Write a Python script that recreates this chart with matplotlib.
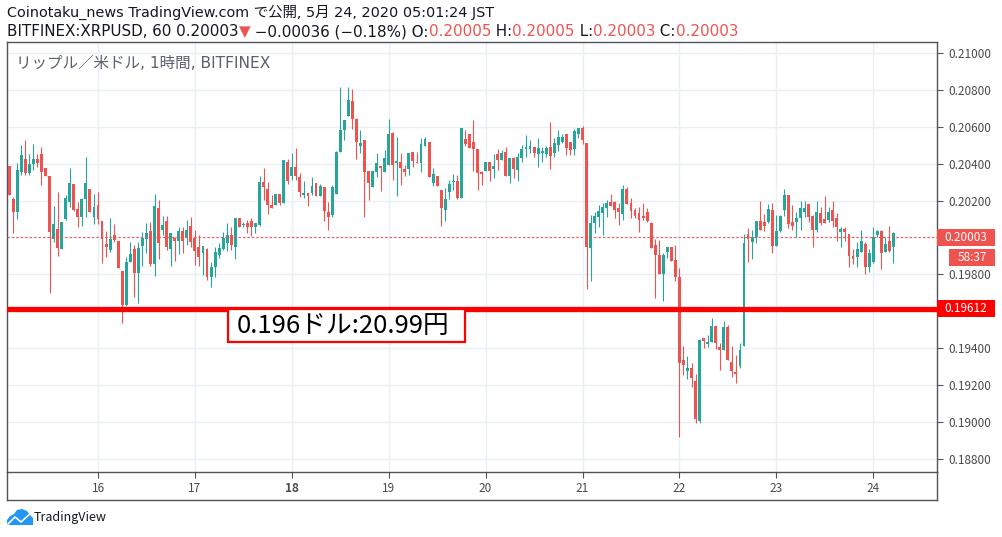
import matplotlib
matplotlib.use("Agg")

import matplotlib.pyplot as plt
from matplotlib.patches import Rectangle, Polygon
from matplotlib.lines import Line2D
import numpy as np
import pandas as pd

plt.rcParams['font.family'] = ['Noto Sans CJK JP', 'DejaVu Sans']
LATIN_FIRST = ['DejaVu Sans', 'Noto Sans CJK JP']

# XRP/USD 1h candles, Bitfinex, from 2020-05-15 02:00 JST
first_bar = "2020-05-15 02:00"

opens = [
    0.20387, 0.20208, 0.20138, 0.20355, 0.20425, 0.20349, 0.20398, 0.20425, 0.20452, 0.20376,
    0.20333, 0.19992, 0.20046, 0.19937, 0.20100, 0.20192, 0.20290, 0.20154, 0.20111, 0.20208,
    0.20263, 0.20111, 0.20176, 0.20089, 0.19965, 0.19932, 0.20013, 0.19981, 0.19818, 0.19634,
    0.19867, 0.19937, 0.19807, 0.19954, 0.19992, 0.20035, 0.19856, 0.20160, 0.20040, 0.20089,
    0.19937, 0.19997, 0.19981, 0.20035, 0.20002, 0.20062, 0.19997, 0.19948, 0.19916, 0.19937,
    0.19786, 0.19840, 0.19905, 0.19937, 0.19970, 0.20013, 0.19948, 0.20105, 0.20067, 0.20078,
    0.20089, 0.20057, 0.20067, 0.20301, 0.20263, 0.20176, 0.20176, 0.20236, 0.20187, 0.20409,
    0.20333, 0.20382, 0.20328, 0.20230, 0.20241, 0.20241, 0.20295, 0.20225, 0.20273, 0.20138,
    0.20122, 0.20236, 0.20463, 0.20582, 0.20658, 0.20740, 0.20642, 0.20496, 0.20528, 0.20360,
    0.20273, 0.20355, 0.20387, 0.20355, 0.20393, 0.20566, 0.20404, 0.20409, 0.20371, 0.20371,
    0.20463, 0.20409, 0.20404, 0.20496, 0.20517, 0.20295, 0.20333, 0.20257, 0.20149, 0.20246,
    0.20301, 0.20306, 0.20214, 0.20534, 0.20561, 0.20517, 0.20479, 0.20355, 0.20360, 0.20409,
    0.20371, 0.20452, 0.20420, 0.20463, 0.20333, 0.20431, 0.20366, 0.20431, 0.20479, 0.20479,
    0.20490, 0.20452, 0.20458, 0.20452, 0.20490, 0.20458, 0.20501, 0.20517, 0.20561, 0.20517,
    0.20479, 0.20561, 0.20593, 0.20512, 0.19943, 0.20078, 0.20111, 0.20133, 0.20160, 0.20192,
    0.20192, 0.20160, 0.20127, 0.20263, 0.20187, 0.20149, 0.20133, 0.20116, 0.20138, 0.20078,
    0.19959, 0.19905, 0.19802, 0.19921, 0.19948, 0.19878, 0.19786, 0.19336, 0.19276, 0.19292,
    0.19222, 0.19005, 0.19455, 0.19423, 0.19433, 0.19520, 0.19406, 0.19390, 0.19515, 0.19325,
    0.19271, 0.19303, 0.19412, 0.20019, 0.19975, 0.20002, 0.20089, 0.20084, 0.20084, 0.20149,
    0.19954, 0.20035, 0.20149, 0.20230, 0.20084, 0.20084, 0.20105, 0.20138, 0.20181, 0.20116,
    0.20040, 0.20133, 0.20100, 0.20095, 0.20149, 0.20105, 0.20030, 0.20046, 0.20019, 0.19899,
    0.19894, 0.19921, 0.19965, 0.19840, 0.19867, 0.20013, 0.20035, 0.19921, 0.19981, 0.19948,
]
highs = [
    0.20387, 0.20219, 0.20404, 0.20501, 0.20528, 0.20452, 0.20507, 0.20452, 0.20490, 0.20376,
    0.20333, 0.20170, 0.20246, 0.20084, 0.20230, 0.20376, 0.20290, 0.20192, 0.20214, 0.20436,
    0.20263, 0.20236, 0.20246, 0.20089, 0.20035, 0.20105, 0.20073, 0.19981, 0.19818, 0.19894,
    0.19975, 0.19959, 0.19975, 0.20030, 0.20078, 0.20084, 0.20236, 0.20203, 0.20116, 0.20116,
    0.20024, 0.20002, 0.20057, 0.20057, 0.20095, 0.20111, 0.20040, 0.20013, 0.19954, 0.19943,
    0.19867, 0.19948, 0.19970, 0.20030, 0.20078, 0.20057, 0.20105, 0.20105, 0.20084, 0.20095,
    0.20105, 0.20078, 0.20333, 0.20376, 0.20301, 0.20230, 0.20236, 0.20236, 0.20420, 0.20425,
    0.20458, 0.20485, 0.20349, 0.20306, 0.20241, 0.20328, 0.20295, 0.20290, 0.20273, 0.20192,
    0.20284, 0.20469, 0.20815, 0.20637, 0.20815, 0.20805, 0.20647, 0.20582, 0.20528, 0.20360,
    0.20360, 0.20458, 0.20387, 0.20474, 0.20642, 0.20572, 0.20544, 0.20458, 0.20393, 0.20458,
    0.20463, 0.20463, 0.20539, 0.20544, 0.20517, 0.20376, 0.20333, 0.20257, 0.20268, 0.20311,
    0.20344, 0.20338, 0.20593, 0.20582, 0.20561, 0.20637, 0.20479, 0.20360, 0.20409, 0.20409,
    0.20452, 0.20479, 0.20474, 0.20490, 0.20431, 0.20436, 0.20458, 0.20501, 0.20555, 0.20528,
    0.20490, 0.20539, 0.20490, 0.20496, 0.20626, 0.20539, 0.20582, 0.20561, 0.20561, 0.20517,
    0.20588, 0.20593, 0.20604, 0.20512, 0.20122, 0.20138, 0.20176, 0.20187, 0.20203, 0.20236,
    0.20198, 0.20187, 0.20284, 0.20273, 0.20214, 0.20160, 0.20165, 0.20187, 0.20160, 0.20084,
    0.19992, 0.19986, 0.19916, 0.19948, 0.19948, 0.19959, 0.19834, 0.19412, 0.19357, 0.19320,
    0.19260, 0.19450, 0.19455, 0.19471, 0.19563, 0.19520, 0.19428, 0.19547, 0.19525, 0.19412,
    0.19363, 0.19428, 0.20019, 0.20051, 0.20040, 0.20089, 0.20198, 0.20127, 0.20181, 0.20187,
    0.20122, 0.20122, 0.20263, 0.20230, 0.20176, 0.20138, 0.20198, 0.20198, 0.20181, 0.20122,
    0.20198, 0.20165, 0.20225, 0.20165, 0.20198, 0.20133, 0.20057, 0.20057, 0.20019, 0.19937,
    0.19975, 0.20040, 0.19975, 0.19937, 0.20057, 0.20040, 0.20040, 0.20002, 0.20062, 0.20030,
]
lows = [
    0.20230, 0.20024, 0.20100, 0.20338, 0.20338, 0.20338, 0.20366, 0.20382, 0.20284, 0.20333,
    0.19699, 0.19975, 0.19899, 0.19937, 0.20095, 0.20165, 0.20143, 0.20057, 0.20062, 0.20111,
    0.20138, 0.20073, 0.20073, 0.19862, 0.19894, 0.19921, 0.19975, 0.19834, 0.19536, 0.19628,
    0.19867, 0.19677, 0.19645, 0.19845, 0.19916, 0.19845, 0.19791, 0.19883, 0.20013, 0.19932,
    0.19845, 0.19872, 0.19910, 0.19916, 0.19959, 0.19948, 0.19851, 0.19845, 0.19796, 0.19769,
    0.19731, 0.19786, 0.19889, 0.19932, 0.19927, 0.19932, 0.19883, 0.20057, 0.20057, 0.20024,
    0.20008, 0.20024, 0.20062, 0.20203, 0.20127, 0.20160, 0.20176, 0.20176, 0.20187, 0.20290,
    0.20311, 0.20311, 0.20219, 0.20214, 0.20170, 0.20230, 0.20225, 0.20225, 0.20089, 0.20040,
    0.20111, 0.20236, 0.20463, 0.20528, 0.20658, 0.20588, 0.20425, 0.20458, 0.20111, 0.20203,
    0.20273, 0.20328, 0.20252, 0.20355, 0.20393, 0.20311, 0.20225, 0.20284, 0.20333, 0.20338,
    0.20382, 0.20404, 0.20355, 0.20496, 0.20328, 0.20279, 0.20279, 0.20062, 0.20089, 0.20208,
    0.20257, 0.20208, 0.20214, 0.20496, 0.20485, 0.20360, 0.20257, 0.20284, 0.20360, 0.20306,
    0.20322, 0.20366, 0.20420, 0.20333, 0.20295, 0.20322, 0.20306, 0.20409, 0.20436, 0.20458,
    0.20436, 0.20382, 0.20409, 0.20436, 0.20371, 0.20436, 0.20469, 0.20512, 0.20447, 0.20447,
    0.20447, 0.20539, 0.20507, 0.19721, 0.19764, 0.20024, 0.20057, 0.20013, 0.20111, 0.20170,
    0.20105, 0.20067, 0.20095, 0.20181, 0.20105, 0.20105, 0.20030, 0.20095, 0.20084, 0.19943,
    0.19672, 0.19802, 0.19656, 0.19889, 0.19872, 0.19764, 0.18918, 0.19254, 0.19233, 0.19189,
    0.18994, 0.18994, 0.19401, 0.19406, 0.19433, 0.19395, 0.19282, 0.19390, 0.19336, 0.19244,
    0.19211, 0.19292, 0.19412, 0.19867, 0.19883, 0.19970, 0.20040, 0.20035, 0.20078, 0.19916,
    0.19954, 0.20030, 0.20116, 0.20051, 0.20040, 0.20002, 0.20040, 0.20111, 0.20084, 0.19948,
    0.20030, 0.20067, 0.20078, 0.20084, 0.20057, 0.19981, 0.19948, 0.19981, 0.19840, 0.19856,
    0.19840, 0.19921, 0.19802, 0.19813, 0.19862, 0.20002, 0.19829, 0.19921, 0.19921, 0.19862,
]
closes = [
    0.20230, 0.20138, 0.20366, 0.20447, 0.20349, 0.20398, 0.20425, 0.20404, 0.20355, 0.20333,
    0.20030, 0.20073, 0.19943, 0.20084, 0.20214, 0.20295, 0.20149, 0.20111, 0.20208, 0.20295,
    0.20138, 0.20165, 0.20100, 0.19992, 0.19948, 0.19992, 0.19986, 0.19834, 0.19634, 0.19867,
    0.19910, 0.19807, 0.19943, 0.19997, 0.20024, 0.19856, 0.20170, 0.19970, 0.20067, 0.19948,
    0.20024, 0.19981, 0.20035, 0.19981, 0.20040, 0.19975, 0.19927, 0.19894, 0.19954, 0.19786,
    0.19840, 0.19921, 0.19943, 0.19997, 0.20013, 0.19959, 0.20105, 0.20057, 0.20073, 0.20057,
    0.20057, 0.20078, 0.20301, 0.20273, 0.20176, 0.20160, 0.20236, 0.20187, 0.20420, 0.20306,
    0.20382, 0.20333, 0.20246, 0.20241, 0.20225, 0.20279, 0.20225, 0.20279, 0.20143, 0.20111,
    0.20273, 0.20463, 0.20582, 0.20637, 0.20745, 0.20642, 0.20517, 0.20512, 0.20355, 0.20295,
    0.20360, 0.20404, 0.20376, 0.20431, 0.20561, 0.20393, 0.20414, 0.20376, 0.20355, 0.20458,
    0.20414, 0.20404, 0.20507, 0.20534, 0.20328, 0.20344, 0.20279, 0.20160, 0.20208, 0.20290,
    0.20306, 0.20214, 0.20593, 0.20507, 0.20485, 0.20479, 0.20349, 0.20344, 0.20409, 0.20360,
    0.20387, 0.20420, 0.20458, 0.20333, 0.20431, 0.20371, 0.20436, 0.20479, 0.20490, 0.20496,
    0.20458, 0.20485, 0.20469, 0.20485, 0.20441, 0.20512, 0.20544, 0.20544, 0.20485, 0.20474,
    0.20577, 0.20593, 0.20528, 0.19948, 0.20078, 0.20116, 0.20143, 0.20165, 0.20187, 0.20170,
    0.20149, 0.20138, 0.20263, 0.20181, 0.20143, 0.20116, 0.20095, 0.20105, 0.20089, 0.19943,
    0.19905, 0.19802, 0.19905, 0.19948, 0.19872, 0.19786, 0.19320, 0.19309, 0.19292, 0.19238,
    0.19016, 0.19444, 0.19439, 0.19433, 0.19520, 0.19428, 0.19390, 0.19515, 0.19336, 0.19276,
    0.19260, 0.19390, 0.19970, 0.19992, 0.20002, 0.20089, 0.20040, 0.20062, 0.20154, 0.19954,
    0.20035, 0.20116, 0.20230, 0.20073, 0.20062, 0.20105, 0.20160, 0.20160, 0.20111, 0.20040,
    0.20138, 0.20078, 0.20078, 0.20138, 0.20089, 0.20057, 0.20046, 0.20030, 0.19899, 0.19883,
    0.19937, 0.19981, 0.19840, 0.19916, 0.20002, 0.20035, 0.19916, 0.19965, 0.19927, 0.20024,
]

last_price = 0.20003
support_price = 0.19612
price_ticks = [0.188, 0.190, 0.192, 0.194, 0.196, 0.198, 0.200, 0.202, 0.204, 0.206, 0.208, 0.210]
day_starts = pd.date_range("2020-05-16", "2020-05-24", freq="D")

header_1 = "Coinotaku_news TradingView.com で公開, 5月 24, 2020 05:01:24 JST"
chart_title = "リップル／米ドル, 1時間, BITFINEX"
note_text = "0.196ドル:20.99円"

UP = "#26a69a"
DOWN = "#ef5350"
GRID = "#e9eff4"
FRAME = "#50535e"
TXT = "#131722"

W, H = 1002, 537
fig = plt.figure(figsize=(W / 100, H / 100), dpi=100)
fig.patch.set_facecolor("white")

# main price pane: x 7..937, y 42..472 (pixels)
ax = fig.add_axes([7 / W, (H - 472) / H, 930 / W, 430 / H])

t0 = pd.Timestamp("2020-05-16")
times = pd.date_range(first_bar, periods=len(closes), freq="h")
x = np.asarray((times - t0) / pd.Timedelta(hours=1))
o = np.array(opens)
h = np.array(highs)
l = np.array(lows)
c = np.array(closes)
cols = np.where(c >= o, UP, DOWN)

ax.vlines(x, l, h, colors=cols, linewidth=0.8, zorder=3)
body = np.maximum(np.abs(c - o), 0.00004)
ax.bar(x, body, bottom=np.minimum(o, c), width=0.72, color=cols, linewidth=0, zorder=4)

ax.set_xlim(-22.54, 207.8)
ax.set_ylim(0.18729, 0.21059)

ax.axhline(last_price, color=DOWN, linewidth=0.8, linestyle=(0, (2, 2)), zorder=5)
ax.axhline(support_price, color="#ff0000", linewidth=3.8, zorder=6)

# the 0.20000 and 0.19600 labels sit under the coloured price tags
covered = {0.196, 0.200}
ax.set_yticks(price_ticks)
ax.set_yticklabels(["" if p in covered else f"{p:.5f}" for p in price_ticks])
ax.yaxis.tick_right()
day_x = np.asarray((day_starts - t0) / pd.Timedelta(hours=1))
ax.set_xticks(day_x)
ax.set_xticklabels([str(d.day) for d in day_starts])
for lab, d in zip(ax.get_xticklabels(), day_starts):
    if d.day == 18:
        lab.set_fontweight("bold")
ax.tick_params(axis="both", labelsize=8.5, colors=FRAME, labelcolor="#4a4a4a", length=4, width=0.8)
ax.tick_params(axis="y", pad=4)
ax.grid(True, color=GRID, linewidth=1, zorder=0)
for s in ax.spines.values():
    s.set_color(FRAME)
    s.set_linewidth(1)

ax.text(0.0097, 0.95, chart_title, transform=ax.transAxes, fontsize=11.2,
        color="#5d606b", va="center", ha="left", family=LATIN_FIRST)

# time axis frame below the pane
fig.add_artist(Line2D([7 / W, 7 / W], [(H - 472) / H, (H - 500) / H], color=FRAME, lw=1))
fig.add_artist(Line2D([937 / W, 937 / W], [(H - 472) / H, (H - 500) / H], color=FRAME, lw=1))
fig.add_artist(Line2D([7 / W, 937 / W], [(H - 500) / H, (H - 500) / H], color=FRAME, lw=1))


def px_box(x0, y0, x1, y1, face, edge=None, lw=0):
    fig.add_artist(Rectangle((x0 / W, (H - y1) / H), (x1 - x0) / W, (y1 - y0) / H,
                             transform=fig.transFigure, facecolor=face,
                             edgecolor=edge if edge else face, linewidth=lw))


# price tags on the right axis
px_box(937, 229, 995, 246, DOWN)
fig.text(966 / W, 1 - 237.5 / H, f"{last_price:.5f}", color="white", fontsize=8.5,
         ha="center", va="center")
px_box(949, 249, 995, 266, DOWN)
fig.text(972 / W, 1 - 257.5 / H, "58:37", color="white", fontsize=8.5, ha="center", va="center")
px_box(937, 300, 995, 317, "#ff0000")
fig.text(966 / W, 1 - 308.5 / H, f"{support_price:.5f}", color="white", fontsize=8.5,
         ha="center", va="center")

# note box
px_box(228, 309, 465, 342, "white", "#ff0000", 1.6)
fig.text(343 / W, 1 - 326 / H, note_text, color="black", fontsize=18.5, ha="center", va="center")

# header
renderer = fig.canvas.get_renderer()


def draw_runs(x_px, y_px, runs, size):
    xf = x_px / W
    for txt, col in runs:
        t = fig.text(xf, 1 - y_px / H, txt, color=col, fontsize=size, ha="left", va="center",
                     family=LATIN_FIRST)
        xf += t.get_window_extent(renderer=renderer).width / W


draw_runs(7, 12, [(header_1, TXT)], 10.4)
draw_runs(7, 32, [
    ("BITFINEX:XRPUSD, 60 0.20003", TXT), ("▼", DOWN), (" −0.00036 (−0.18%) O:", TXT),
    ("0.20005", DOWN), (" H:", TXT), ("0.20005", DOWN), (" L:", TXT), ("0.20003", DOWN),
    (" C:", TXT), ("0.20003", DOWN),
], 10.9)

# TradingView logo
cloud = [(7, 525), (7, 520), (10, 516), (14, 514), (17, 510), (22, 509), (27, 511),
         (30, 515), (33, 518), (33, 525)]
fig.add_artist(Polygon([(px / W, 1 - py / H) for px, py in cloud], closed=True,
                       transform=fig.transFigure, facecolor="#2196f3", edgecolor="none"))
zig = [(8, 524), (15, 517), (21, 522), (31, 513)]
fig.add_artist(Line2D([px / W for px, _ in zig], [1 - py / H for _, py in zig],
                      color="white", lw=1.2))
fig.text(34 / W, 1 - 518 / H, "TradingView", color=TXT, fontsize=9, ha="left", va="center")

fig.savefig("out.png", dpi=100)
